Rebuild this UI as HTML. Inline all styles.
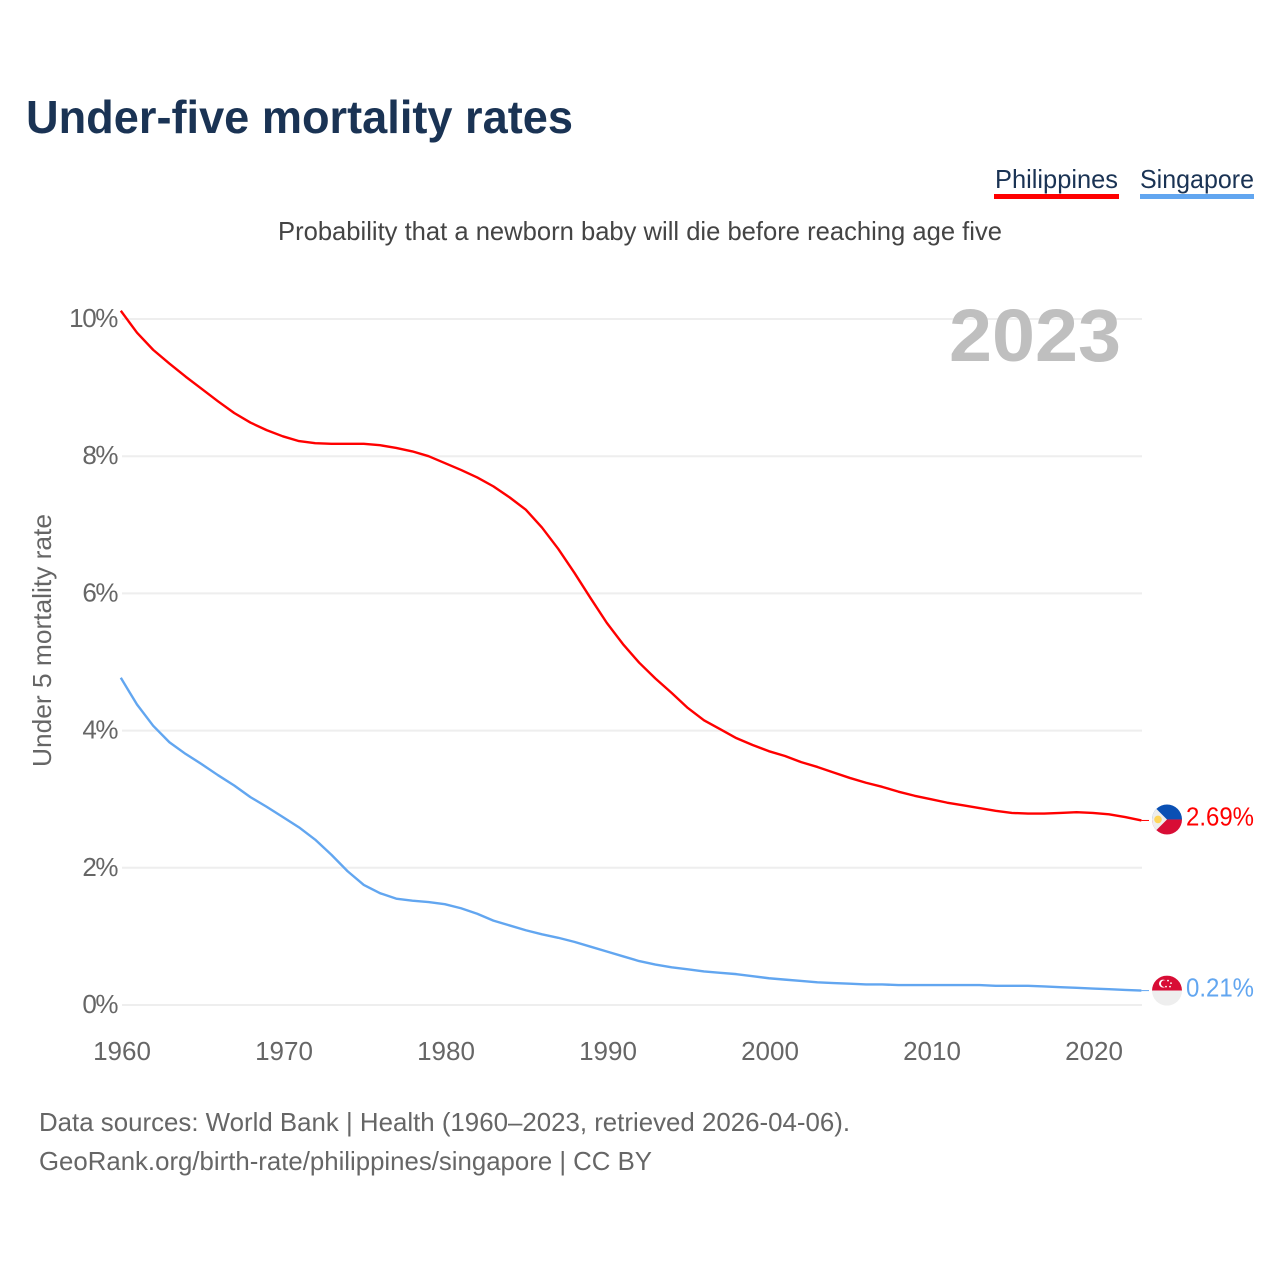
<!DOCTYPE html>
<html lang="en">
<head>
<meta charset="utf-8">
<title>Under-five mortality rates</title>
<style>
html,body{margin:0;padding:0;background:#fff;width:1280px;height:1280px;overflow:hidden}
svg{display:block}
text{font-family:"Liberation Sans",sans-serif}
</style>
</head>
<body>
<svg id="chart" width="1280" height="1280" viewBox="0 0 1280 1280" xmlns="http://www.w3.org/2000/svg">
  <text x="26" y="133" font-size="46" font-weight="700" fill="#1a3354" textLength="547" lengthAdjust="spacingAndGlyphs">Under-five mortality rates</text>
  <text x="995" y="188" font-size="26" fill="#1a3354" textLength="123" lengthAdjust="spacingAndGlyphs">Philippines</text>
  <rect x="994" y="194" width="125" height="5" fill="#ff0000"/>
  <text x="1140" y="188" font-size="26" fill="#1a3354" textLength="114" lengthAdjust="spacingAndGlyphs">Singapore</text>
  <rect x="1140" y="194" width="114" height="5" fill="#62a6f0"/>
  <text x="278" y="240" font-size="26" fill="#444444" textLength="724" lengthAdjust="spacingAndGlyphs">Probability that a newborn baby will die before reaching age five</text>
  <text transform="translate(51 767) rotate(-90)" x="0" y="0" font-size="26" fill="#666666" textLength="253" lengthAdjust="spacingAndGlyphs">Under 5 mortality rate</text>
  <g id="grid"></g>
  <g id="yticks"></g>
  <g id="xticks"></g>
  <text x="949" y="361" font-size="74" font-weight="700" fill="#bfbfbf" textLength="172" lengthAdjust="spacingAndGlyphs">2023</text>
  <g id="series"></g>
  <g id="flag-ph">
    <clipPath id="clip-ph"><circle id="clip-ph-circle" r="15"/></clipPath>
    <g clip-path="url(#clip-ph)">
      <g id="flag-ph-art">
        <rect x="-15" y="-15" width="30" height="15" fill="#0a50b4"/>
        <rect x="-15" y="0" width="30" height="15" fill="#d80d35"/>
        <path d="M-15 -15 L0 0 L-15 15 Z" fill="#eeeeee"/>
        <circle cx="-9" cy="0" r="3.8" fill="#ffd65c"/>
      </g>
    </g>
  </g>
  <g id="flag-sg">
    <clipPath id="clip-sg"><circle id="clip-sg-circle" r="15"/></clipPath>
    <g clip-path="url(#clip-sg)">
      <g id="flag-sg-art">
        <rect x="-15" y="-15" width="30" height="15" fill="#d80d35"/>
        <rect x="-15" y="0" width="30" height="15" fill="#eeeeee"/>
        <circle cx="-4" cy="-7" r="4" fill="#ffffff"/>
        <circle cx="-2.6" cy="-7" r="3.4" fill="#d80d35"/>
        <circle cx="1" cy="-10" r="0.9" fill="#ffffff"/>
        <circle cx="4" cy="-7.5" r="0.9" fill="#ffffff"/>
        <circle cx="3" cy="-4" r="0.9" fill="#ffffff"/>
        <circle cx="-1" cy="-4" r="0.9" fill="#ffffff"/>
      </g>
    </g>
  </g>
  <g id="end-labels"></g>
  <text x="39" y="1131" font-size="26" fill="#666666" textLength="811" lengthAdjust="spacingAndGlyphs">Data sources: World Bank | Health (1960–2023, retrieved 2026-04-06).</text>
  <text x="39" y="1170" font-size="26" fill="#666666" textLength="613" lengthAdjust="spacingAndGlyphs">GeoRank.org/birth-rate/philippines/singapore | CC BY</text>
</svg>
<script>
const startYear = 1960;
const philippines = [10.12,9.80,9.55,9.35,9.16,8.98,8.80,8.63,8.49,8.38,8.29,8.22,8.19,8.18,8.18,8.18,8.16,8.12,8.07,8.00,7.90,7.80,7.69,7.56,7.40,7.22,6.96,6.65,6.30,5.93,5.57,5.26,4.99,4.76,4.55,4.33,4.15,4.02,3.89,3.79,3.70,3.63,3.54,3.47,3.39,3.31,3.24,3.18,3.11,3.05,3.00,2.95,2.91,2.87,2.83,2.80,2.79,2.79,2.80,2.81,2.80,2.78,2.74,2.69];
const singapore = [4.77,4.38,4.07,3.83,3.66,3.51,3.35,3.20,3.03,2.89,2.74,2.59,2.41,2.19,1.95,1.75,1.63,1.55,1.52,1.50,1.47,1.41,1.33,1.23,1.16,1.09,1.03,0.98,0.92,0.85,0.78,0.71,0.64,0.59,0.55,0.52,0.49,0.47,0.45,0.42,0.39,0.37,0.35,0.33,0.32,0.31,0.30,0.30,0.29,0.29,0.29,0.29,0.29,0.29,0.28,0.28,0.28,0.27,0.26,0.25,0.24,0.23,0.22,0.21];
const yTickValues = [0,2,4,6,8,10];
const xTickValues = [1960,1970,1980,1990,2000,2010,2020];

const SVG_NS = 'http://www.w3.org/2000/svg';
const xScale = function (year) { return 120.8 + (year - 1960) * 16.2; };
const yScale = function (pct) { return 1005 - pct * 68.6; };
const lastX = xScale(startYear + philippines.length - 1);

function make(tag, attrs, parent, text) {
  const el = document.createElementNS(SVG_NS, tag);
  Object.keys(attrs).forEach(function (k) { el.setAttribute(k, attrs[k]); });
  if (text !== undefined) el.textContent = text;
  parent.appendChild(el);
  return el;
}

const gridG = document.getElementById('grid');
const yG = document.getElementById('yticks');
yTickValues.forEach(function (v) {
  const line = make('line', {x1: 122, x2: 1142, y1: yScale(v), y2: yScale(v), stroke: '#eeeeee', 'stroke-width': 2}, gridG);
  
  
  const label = make('text', {x: 117, y: yScale(v) + 8, 'text-anchor': 'end', 'font-size': 26, fill: '#666666', 'letter-spacing': v === 10 ? -1.4 : -1.5}, yG, v + '%');
  
  
});

const xG = document.getElementById('xticks');
xTickValues.forEach(function (year) {
  const label = make('text', {x: xScale(year) + 1.2, y: 1060, 'text-anchor': 'middle', 'font-size': 26, fill: '#666666'}, xG, String(year));
  
  
});

function pathFor(values) {
  return values.map(function (v, i) {
    return (i ? 'L' : 'M') + xScale(startYear + i).toFixed(2) + ' ' + yScale(v).toFixed(2);
  }).join(' ');
}

const seriesG = document.getElementById('series');
const phLine = make('path', {d: pathFor(philippines), fill: 'none', stroke: '#ff0000', 'stroke-width': 2.4, 'stroke-linejoin': 'round'}, seriesG);


const sgLine = make('path', {d: pathFor(singapore), fill: 'none', stroke: '#62a6f0', 'stroke-width': 2.4, 'stroke-linejoin': 'round'}, seriesG);



const phEnd = philippines[philippines.length - 1];
const sgEnd = singapore[singapore.length - 1];
const phLead = make('line', {x1: lastX, x2: 1149, y1: yScale(phEnd), y2: yScale(phEnd), stroke: '#ff0000', 'stroke-width': 1}, seriesG);


const sgLead = make('line', {x1: lastX, x2: 1149, y1: yScale(sgEnd), y2: yScale(sgEnd), stroke: '#62a6f0', 'stroke-width': 1}, seriesG);



document.getElementById('flag-ph').setAttribute('transform', 'translate(1167 ' + (yScale(phEnd) - 1) + ')');
document.getElementById('flag-sg').setAttribute('transform', 'translate(1167 ' + yScale(sgEnd) + ')');

const endG = document.getElementById('end-labels');
const phLabel = make('text', {x: 1186, y: yScale(phEnd) + 5, 'font-size': 26, fill: '#ff0000', textLength: 68, lengthAdjust: 'spacingAndGlyphs'}, endG, phEnd.toFixed(2) + '%');


const sgLabel = make('text', {x: 1186, y: yScale(sgEnd) + 6, 'font-size': 26, fill: '#62a6f0', textLength: 68, lengthAdjust: 'spacingAndGlyphs'}, endG, sgEnd.toFixed(2) + '%');


</script>
</body>
</html>
